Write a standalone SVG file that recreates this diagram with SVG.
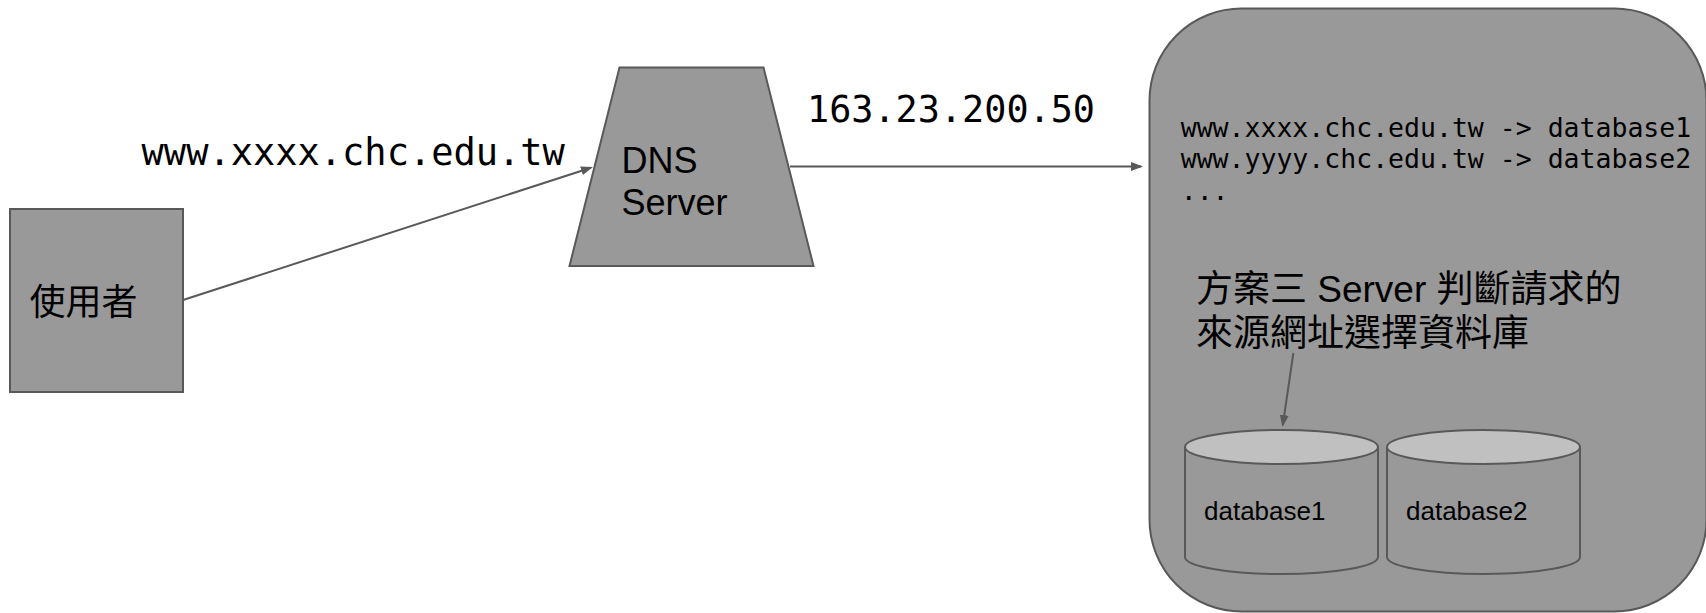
<svg xmlns="http://www.w3.org/2000/svg" width="1706" height="613" viewBox="0 0 1706 613">
<style>
.shape{fill:#999999;stroke:#595959;stroke-width:2}
.top{fill:#c0c0c0;stroke:#595959;stroke-width:2}
.conn{stroke:#595959;stroke-width:2;fill:none}
.mono{font-family:"DejaVu Sans Mono","Liberation Mono",monospace;fill:#000}
.sans{font-family:"Liberation Sans","Noto Sans CJK TC",sans-serif;fill:#000}
</style>
<defs>
<marker id="ah" markerUnits="userSpaceOnUse" markerWidth="13" markerHeight="10" refX="10" refY="4.5" orient="auto" viewBox="0 0 13 10">
<path d="M0,0 L12,4.5 L0,9 z" fill="#595959"/>
</marker>
</defs>
<rect width="1706" height="613" fill="#ffffff"/>
<g id="user">
<rect class="shape" x="10" y="209" width="173" height="183"/>
<text class="sans" x="29.5" y="314.5" font-size="36">使用者</text>
</g>
<g id="dns">
<polygon class="shape" points="619.5,67.5 763.5,67.5 813.5,266 569.5,266"/>
<text class="sans" x="621.5" y="173" font-size="36">DNS</text>
<text class="sans" x="621.5" y="215" font-size="36">Server</text>
</g>
<g id="server">
<rect class="shape" x="1149.5" y="8.5" width="557" height="603" rx="92" ry="92"/>
<text class="mono" x="1180.7" y="137" font-size="26.5">www.xxxx.chc.edu.tw -&gt; database1</text>
<text class="mono" x="1180.7" y="168" font-size="26.5">www.yyyy.chc.edu.tw -&gt; database2</text>
<text class="mono" x="1180.7" y="200" font-size="26.5">...</text>
<text class="sans" x="1196" y="302" font-size="37">方案三 Server 判斷請求的</text>
<text class="sans" x="1196" y="346" font-size="37">來源網址選擇資料庫</text>
</g>
<g id="database1">
<path class="shape" d="M1185,447 L1185,557 A96.5,17 0 0 0 1378,557 L1378,447"/>
<ellipse class="top" cx="1281.5" cy="447" rx="96.5" ry="17"/>
<text class="sans" x="1204" y="520" font-size="26">database1</text>
</g>
<g id="database2">
<path class="shape" d="M1387,447 L1387,557 A96.5,17 0 0 0 1580,557 L1580,447"/>
<ellipse class="top" cx="1483.5" cy="447" rx="96.5" ry="17"/>
<text class="sans" x="1406" y="520" font-size="26">database2</text>
</g>
<g id="labels">
<text class="mono" x="141.6" y="165" font-size="37">www.xxxx.chc.edu.tw</text>
<text class="mono" x="807" y="122" font-size="36.8">163.23.200.50</text>
</g>
<g id="connectors">
<line class="conn" x1="183" y1="300" x2="591" y2="167.7" marker-end="url(#ah)"/>
<line class="conn" x1="790" y1="166.5" x2="1141" y2="166.5" marker-end="url(#ah)"/>
<line class="conn" x1="1293.4" y1="353" x2="1282.8" y2="425" marker-end="url(#ah)"/>
</g>
</svg>
